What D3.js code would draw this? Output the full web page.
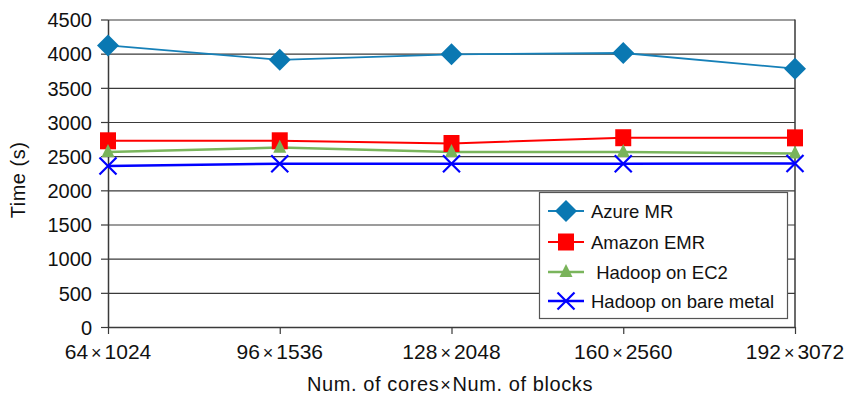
<!DOCTYPE html>
<html>
<head>
<meta charset="utf-8">
<script src="https://cdn.jsdelivr.net/npm/d3@7"></script>
<style>
  html, body { margin: 0; padding: 0; background: #fff; }
  svg { display: block; font-family: "Liberation Sans", Arial, Helvetica, sans-serif; }
</style>
</head>
<body>
<svg id="chart" width="849" height="394"></svg>
<script>
// ---- data ----
const categories = [[64, 1024], [96, 1536], [128, 2048], [160, 2560], [192, 3072]];
const seriesNames = ["Azure MR", "Amazon EMR", " Hadoop on EC2", "Hadoop on bare metal"];
const azureMR = [4120, 3910, 3990, 4010, 3780];
const amazonEMR = [2725, 2725, 2685, 2770, 2768];
const hadoopEC2 = [2560, 2625, 2560, 2560, 2540];
const hadoopBare = [2355, 2390, 2390, 2390, 2392];
const yTicks = [0, 500, 1000, 1500, 2000, 2500, 3000, 3500, 4000, 4500];
const xTitle = ["Num. of cores", "Num. of blocks"];
const yTitle = "Time (s)";

// ---- layout / styles ----
const svg = d3.select("#chart");
const pLeft = 108, pRight = 795, pTop = 19.5, pBottom = 327;
const gridColor = "#3a3a3a";
const FONT = "'Liberation Sans', Arial, Helvetica, sans-serif";

const x = d3.scalePoint().domain(d3.range(categories.length)).range([pLeft, pRight]);
const y = d3.scaleLinear().domain([0, 4500]).range([pBottom, pTop]);

const styles = [
  { color: "#0a78b2", lineColor: "#1680b8", marker: "diamond", lw: 1.8 },
  { color: "#ff0000", lineColor: "#ff0000", marker: "square", lw: 2 },
  { color: "#79b35a", lineColor: "#7ab55c", marker: "triangle", lw: 2.5 },
  { color: "#0000ff", lineColor: "#0000ff", marker: "cross", lw: 2.5 }
];
const series = [azureMR, amazonEMR, hadoopEC2, hadoopBare];

function markerPath(type) {
  switch (type) {
    case "diamond": return "M0,-11L11,0L0,11L-11,0Z";
    case "square": return "M-8,-8.5H8V8.5H-8Z";
    case "triangle": return "M0,-7L6.5,6L-6.5,6Z";
    case "cross": return "M-8.5,-8.5L8.5,8.5M8.5,-8.5L-8.5,8.5";
  }
}

// gridlines
svg.append("g")
  .attr("transform", `translate(${pLeft},0)`)
  .call(d3.axisLeft(y).tickValues(yTicks).tickSize(-(pRight - pLeft)).tickFormat(""))
  .call(g => g.select(".domain").remove())
  .call(g => g.selectAll("line").attr("stroke", gridColor).attr("stroke-width", 1.2));

// right border
svg.append("line").attr("x1", pRight).attr("x2", pRight).attr("y1", pTop).attr("y2", pBottom)
  .attr("stroke", gridColor).attr("stroke-width", 1.5);

// y axis
const yAxis = svg.append("g")
  .attr("transform", `translate(${pLeft},0)`)
  .call(d3.axisLeft(y).tickValues(yTicks).tickFormat(d3.format("d"))
    .tickSize(7).tickPadding(9).tickSizeOuter(0));
yAxis.attr("font-family", FONT).attr("font-size", 20);
yAxis.select(".domain").attr("stroke", gridColor).attr("stroke-width", 1.5);
yAxis.selectAll("line").attr("stroke", gridColor).attr("stroke-width", 1.2);
yAxis.selectAll("text").attr("font-size", 20).attr("fill", "#111").attr("dy", "0.36em");

// x axis
const xAxis = svg.append("g")
  .attr("transform", `translate(0,${pBottom})`)
  .call(d3.axisBottom(x).tickSize(7).tickSizeOuter(0).tickFormat(""));
xAxis.select(".domain").attr("stroke", gridColor).attr("stroke-width", 1.5);
xAxis.selectAll("line").attr("stroke", gridColor).attr("stroke-width", 1.2);

// x tick labels
const xl = svg.append("g").attr("font-family", FONT);
categories.forEach((c, i) => {
  const t = xl.append("text")
    .attr("x", x(i)).attr("y", 359)
    .attr("text-anchor", "middle")
    .attr("font-size", 21).attr("fill", "#111");
  t.append("tspan").text(c[0]);
  t.append("tspan").attr("dx", 3).attr("font-size", 18).text("×");
  t.append("tspan").attr("dx", 3).text(c[1]);
});

// axis titles
const xt = svg.append("text")
  .attr("x", 450).attr("y", 391).attr("text-anchor", "middle")
  .attr("font-family", FONT)
  .attr("font-size", 20).attr("letter-spacing", 0.6).attr("fill", "#111");
xt.append("tspan").text(xTitle[0]);
xt.append("tspan").attr("dx", 1).attr("font-size", 18).text("×");
xt.append("tspan").attr("dx", 1).text(xTitle[1]);

svg.append("text")
  .attr("transform", `translate(25,180) rotate(-90)`)
  .attr("text-anchor", "middle")
  .attr("font-family", FONT)
  .attr("font-size", 20).attr("letter-spacing", 0.5).attr("fill", "#111")
  .text(yTitle);

// lines & markers
const line = d3.line().x((d, i) => x(i)).y(d => y(d));
series.forEach((vals, s) => {
  const st = styles[s];
  svg.append("path").datum(vals)
    .attr("d", line).attr("fill", "none")
    .attr("stroke", st.lineColor).attr("stroke-width", st.lw);
});
series.forEach((vals, s) => {
  const st = styles[s];
  svg.append("g").selectAll("path").data(vals).join("path")
    .attr("transform", (d, i) => `translate(${x(i)},${y(d) - (st.marker === "triangle" ? 1 : 0)})`)
    .attr("d", markerPath(st.marker))
    .attr("fill", st.marker === "cross" ? "none" : st.color)
    .attr("stroke", st.marker === "cross" ? st.color : "none")
    .attr("stroke-width", 2.2);
});

// legend
const lg = svg.append("g").attr("font-family", FONT);
lg.append("rect").attr("x", 539.5).attr("y", 192.5).attr("width", 248).attr("height", 126)
  .attr("fill", "#fff").attr("stroke", "#555").attr("stroke-width", 1.2);
const legendY = [211, 242, 272, 301];
seriesNames.forEach((name, s) => {
  const st = styles[s];
  const g = lg.append("g").attr("transform", `translate(0,${legendY[s]})`);
  g.append("line").attr("x1", 548).attr("x2", 584).attr("y1", 0).attr("y2", 0)
    .attr("stroke", st.lineColor).attr("stroke-width", st.lw);
  g.append("path").attr("transform", `translate(566,${st.marker === "triangle" ? -1 : 0})`)
    .attr("d", markerPath(st.marker))
    .attr("fill", st.marker === "cross" ? "none" : st.color)
    .attr("stroke", st.marker === "cross" ? st.color : "none")
    .attr("stroke-width", 2.2);
  g.append("text").attr("x", 591).attr("y", 6.5).attr("font-size", 18.5).attr("fill", "#111")
    .attr("xml:space", "preserve").style("white-space", "pre")
    .text(name);
});
</script>
</body>
</html>
